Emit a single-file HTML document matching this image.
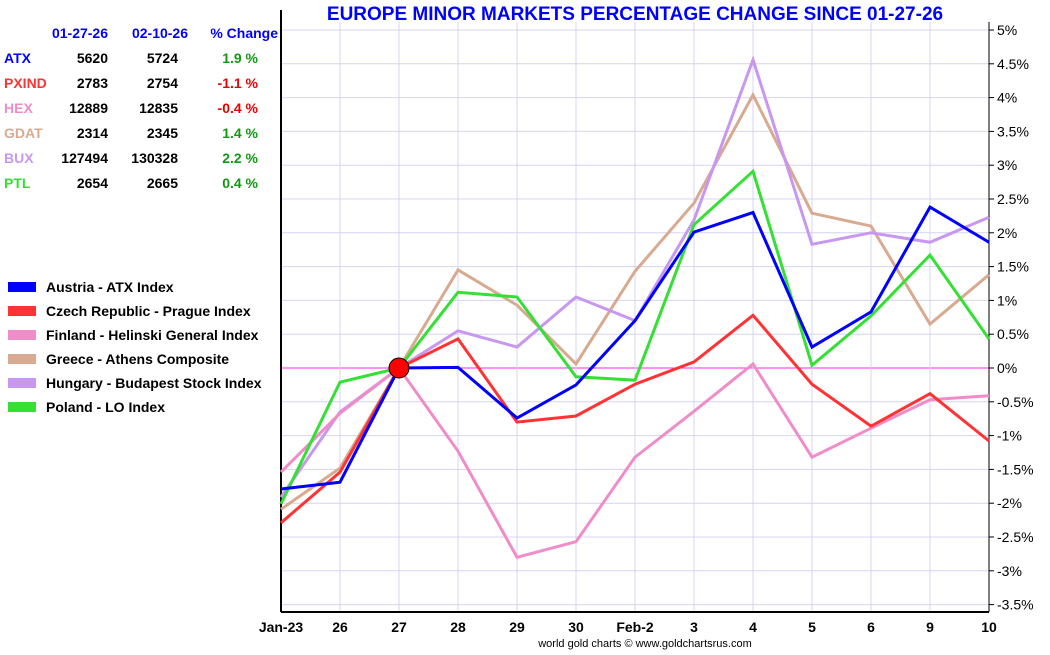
<!DOCTYPE html>
<html><head><meta charset="utf-8"><style>
body{margin:0;background:#fff;width:1050px;height:650px;overflow:hidden;font-family:"Liberation Sans",sans-serif}
svg text{font-family:"Liberation Sans",sans-serif}
</style></head><body>
<svg id="c" width="1050" height="650"></svg>
<script>
const categories=["Jan-23","26","27","28","29","30","Feb-2","3","4","5","6","9","10"];
const atx=[-1.79,-1.69,0,0.01,-0.74,-0.25,0.70,2.01,2.30,0.31,0.83,2.38,1.86];
const pxind=[-2.29,-1.54,0,0.43,-0.80,-0.71,-0.24,0.09,0.78,-0.24,-0.86,-0.38,-1.08];
const hex=[-1.54,-0.67,0,-1.23,-2.80,-2.57,-1.32,-0.64,0.06,-1.32,-0.89,-0.47,-0.41];
const gdat=[-2.09,-1.48,0,1.45,0.93,0.06,1.43,2.44,4.04,2.29,2.10,0.65,1.38];
const bux=[-1.91,-0.65,0,0.55,0.31,1.05,0.70,2.19,4.56,1.83,2.00,1.86,2.23];
const ptl=[-2.01,-0.21,0,1.12,1.05,-0.13,-0.18,2.12,2.91,0.04,0.77,1.67,0.43];
const yTicks=[5,4.5,4,3.5,3,2.5,2,1.5,1,0.5,0,-0.5,-1,-1.5,-2,-2.5,-3,-3.5];
const seriesNames=["Austria - ATX Index","Czech Republic - Prague Index","Finland - Helinski General Index","Greece - Athens Composite","Hungary - Budapest Stock Index","Poland - LO Index"];
const tickers=["ATX","PXIND","HEX","GDAT","BUX","PTL"];
const startVals=["5620","2783","12889","2314","127494","2654"];
const endVals=["5724","2754","12835","2345","130328","2665"];
const changes=["1.9 %","-1.1 %","-0.4 %","1.4 %","2.2 %","0.4 %"];
const colors=["#0000ff","#ff3333","#f08cc8","#d8aa90","#c898f0","#33e033"];
const data=[atx,pxind,hex,gdat,bux,ptl];
const svg=document.getElementById('c');const NS="http://www.w3.org/2000/svg";
const L=281,R=989,T=22,B=612;
const x=i=>L+i*(R-L)/(categories.length-1);
const y=v=>368-v*67.6;
function el(t,a,txt){const e=document.createElementNS(NS,t);for(const k in a)e.setAttribute(k,a[k]);if(txt!=null)e.textContent=txt;svg.appendChild(e);return e;}
yTicks.forEach(v=>{const g=el('line',{x1:L,x2:R,y1:y(v),y2:y(v),stroke:v===0?'#ff22ee':'#d4d4f0','stroke-width':1});


el('line',{x1:R,x2:R+5,y1:y(v),y2:y(v),stroke:'#000'});
const t=el('text',{x:997,y:y(v)+5,'text-anchor':'start','font-size':14,fill:'#000'},v+'%');

});
categories.forEach((c,i)=>{const g=el('line',{x1:x(i),x2:x(i),y1:T,y2:B,stroke:'#d4d4f0'});


const t=el('text',{x:x(i),y:632,'text-anchor':'middle','font-size':14,'font-weight':'bold'},c);

});
el('line',{x1:L,x2:L,y1:10,y2:B,stroke:'#000','stroke-width':2});
el('line',{x1:R,x2:R,y1:22,y2:B,stroke:'#000','stroke-width':1});
el('line',{x1:L,x2:R,y1:B,y2:B,stroke:'#000','stroke-width':2});
const dOrder=[3,4,2,5,1,0];
dOrder.forEach(s=>{const p=el('polyline',{points:data[s].map((v,i)=>x(i)+','+y(v)).join(' '),fill:'none',stroke:colors[s],'stroke-width':3});

});
const m=el('circle',{cx:x(2),cy:y(0),r:10,fill:'#ff0000',stroke:'#000','stroke-width':1});


const ti=el('text',{x:635,y:20,'text-anchor':'middle','font-size':19,'font-weight':'bold',fill:'#0000ff'},'EUROPE MINOR MARKETS PERCENTAGE CHANGE SINCE 01-27-26');


[["01-27-26",108],["02-10-26",188],["% Change",278]].forEach(h=>{const t=el('text',{x:h[1],y:38,'text-anchor':'end','font-size':14,'font-weight':'bold',fill:'#0000ff'},h[0]);

});
tickers.forEach((tk,i)=>{const yy=63+i*25;
let t=el('text',{x:4,y:yy,'font-size':14,'font-weight':'bold',fill:colors[i]},tk);


t=el('text',{x:108,y:yy,'text-anchor':'end','font-size':14,'font-weight':'bold'},startVals[i]);


t=el('text',{x:178,y:yy,'text-anchor':'end','font-size':14,'font-weight':'bold'},endVals[i]);


t=el('text',{x:258,y:yy,'text-anchor':'end','font-size':14,'font-weight':'bold',fill:changes[i][0]==='-'?'#ee0000':'#119911'},changes[i]);


const ly=288+i*24;
const r=el('rect',{x:8,y:ly-6,width:28,height:10,fill:colors[i]});


t=el('text',{x:46,y:ly+4,'font-size':14,'font-weight':'bold'},seriesNames[i]);

});
const ft=el('text',{x:645,y:647,'text-anchor':'middle','font-size':11},'world gold charts © www.goldchartsrus.com');


</script></body></html>
